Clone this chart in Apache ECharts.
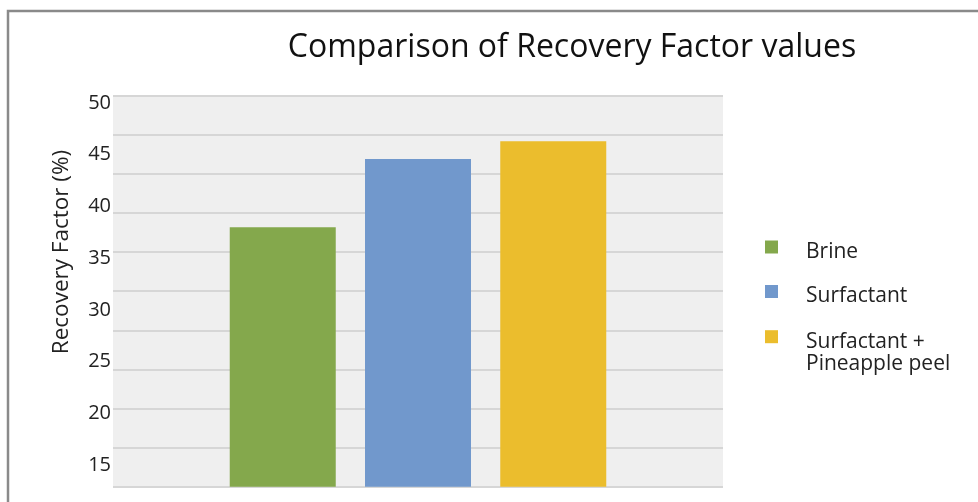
<!DOCTYPE html>
<html>
<head>
<meta charset="utf-8">
<script src="https://cdn.jsdelivr.net/npm/echarts@6/dist/echarts.min.js"></script>
<style>html,body{margin:0;padding:0;background:#fff;}#c{width:978px;height:502px;}</style>
</head>
<body>
<div id="c"></div>
<script>
var seriesNames = ['Brine', 'Surfactant', 'Surfactant +\nPineapple peel'];
var seriesValues = [38.0, 44.6, 46.3];
var seriesColors = ['#84a84c', '#7198cc', '#ebbd2d'];
var tickLabels = [15, 20, 25, 30, 35, 40, 45, 50];
var categories = [''];

var chart = echarts.init(document.getElementById('c'), null, {renderer: 'canvas'});
var FONT = 'Open Sans';

var legendTops = [231, 275.5, 298.7];
var legends = seriesNames.map(function (n, i) {
  return {
    data: [n],
    left: 765, top: legendTops[i], padding: 0, orient: 'vertical',
    icon: 'rect', itemWidth: 13, itemHeight: 13,
    formatter: function (name) {
      var lines = name.split('\n');
      var spacer = lines.length > 1 ? '{s2| }' : '{s1| }';
      return spacer + '\n' + lines.map(function (l) { return '{f|' + l + '}'; }).join('\n');
    },
    textStyle: {
      fontFamily: FONT, fontSize: 21, color: '#222', lineHeight: 22,
      rich: {
        s1: {fontSize: 4, lineHeight: 10},
        s2: {fontSize: 4, lineHeight: 32},
        f: {fontFamily: FONT, fontSize: 21, color: '#222', lineHeight: 22, padding: [0, 0, 0, 23]}
      }
    },
    selectedMode: false
  };
});

var series = seriesNames.map(function (n, i) {
  return {
    name: n, type: 'bar', yAxisIndex: 0,
    data: [seriesValues[i]],
    barWidth: 106, barGap: '27.6%',
    itemStyle: {color: seriesColors[i]},
    animation: false
  };
});

chart.setOption({
  animation: false,
  title: {
    text: 'Comparison of Recovery Factor values',
    left: 567, top: 27, textAlign: 'center',
    textStyle: {fontFamily: FONT, fontSize: 32, fontWeight: 'normal', color: '#111'}
  },
  legend: legends,
  grid: {
    left: 113, right: 255, top: 95.7, bottom: 15.3,
    show: true, backgroundColor: '#efefef', borderWidth: 0
  },
  xAxis: {
    type: 'category', data: categories,
    axisLine: {show: false}, axisTick: {show: false}, axisLabel: {show: false}
  },
  yAxis: [
    {
      type: 'value', min: 12.9, max: 50.71,
      splitLine: {show: false}, axisLine: {show: false}, axisTick: {show: false},
      axisLabel: {
        customValues: tickLabels, margin: 2,
        fontFamily: FONT, fontSize: 20, color: '#222'
      }
    },
    {
      type: 'value', min: 0, max: 50, interval: 5, position: 'left',
      axisLine: {show: false}, axisTick: {show: false}, axisLabel: {show: false},
      splitLine: {show: true, lineStyle: {color: '#d6d6d6', width: 2}}
    }
  ],
  graphic: [
    {
      type: 'rect', silent: true,
      shape: {x: 8, y: 11, width: 1000, height: 600},
      style: {fill: 'none', stroke: '#8a8a8a', lineWidth: 2.5}
    },
    {
      type: 'text', silent: true, x: 62, y: 252, rotation: Math.PI / 2,
      style: {
        text: 'Recovery Factor (%)', fontFamily: FONT, fontSize: 22.5, fill: '#222',
        textAlign: 'center', textVerticalAlign: 'middle'
      }
    }
  ],
  series: series
});
</script>
</body>
</html>
